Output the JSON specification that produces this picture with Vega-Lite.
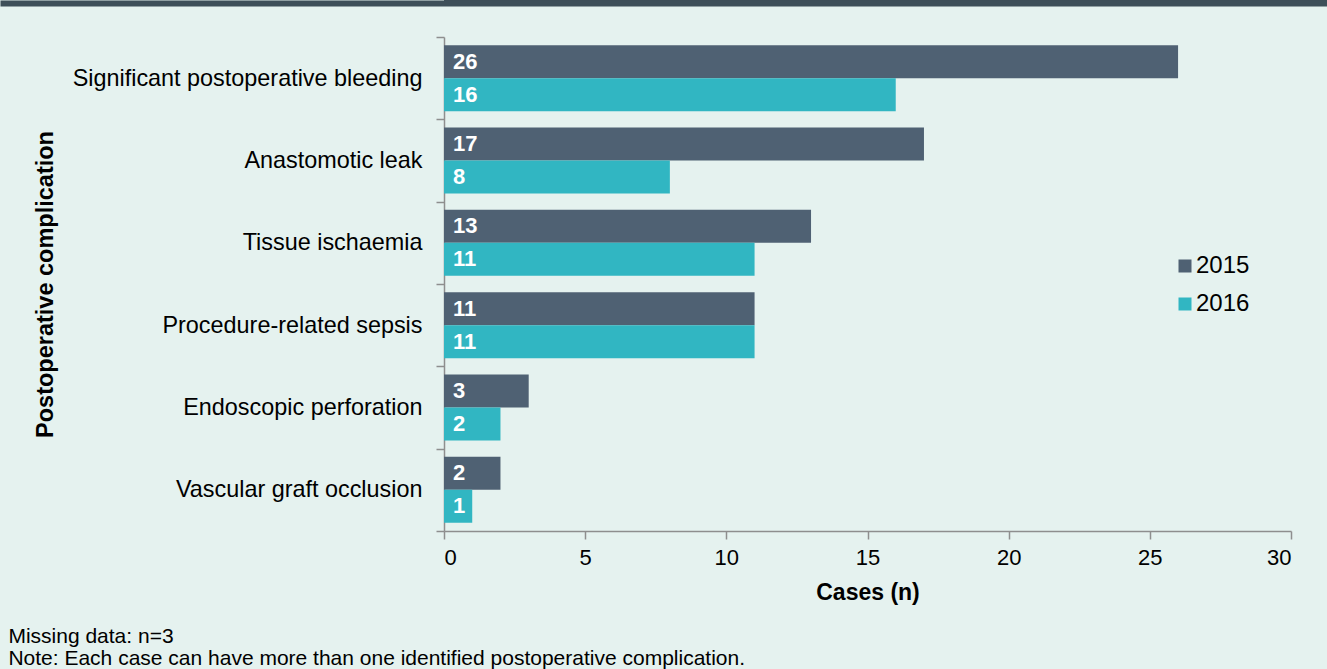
{
  "$schema": "https://vega.github.io/schema/vega-lite/v6.json",
  "background": "#e5f2ef",
  "padding": 0,
  "columns": 1,
  "align": "none",
  "spacing": 22,
  "resolve": {"legend": {"color": "independent"}, "scale": {"x": "independent"}, "axis": {"x": "independent"}},
  "config": {
    "font": "Liberation Sans",
    "view": {"stroke": null},
    "axis": {"domainColor": "#8e8e8e", "tickColor": "#8e8e8e", "domainWidth": 1.5, "tickWidth": 1.5, "labelColor": "#000000", "titleColor": "#000000", "grid": false}
  },
  "concat": [
    {
      "width": 883,
      "height": 3,
      "data": {"values": []},
      "mark": "point",
      "encoding": {
        "x": {
          "field": "h",
          "type": "quantitative",
          "scale": {"domain": [0, 1], "range": [-444, 883]},
          "axis": {"orient": "bottom", "domainWidth": 6, "domainColor": "#3e4f59", "domainCap": "butt", "ticks": false, "labels": false, "title": null, "grid": false}
        }
      },
      "view": {"fill": "#3e4f59", "stroke": null}
    },
    {
      "width": 847,
      "height": 494,
      "title": {
        "text": ["\u200b\u2009\u2009Missing data: n=3", "\u200b\u2009\u2009Note: Each case can have more than one identified postoperative complication."],
        "orient": "bottom",
        "anchor": "start",
        "frame": "group",
        "dx": -444,
        "offset": 22,
        "fontSize": 21,
        "fontWeight": "normal",
        "lineHeight": 21.5,
        "color": "#000000"
      },
      "data": {
        "values": [
          {"complication": "Significant postoperative bleeding", "year": "2015", "cases": 26},
          {"complication": "Significant postoperative bleeding", "year": "2016", "cases": 16},
          {"complication": "Anastomotic leak", "year": "2015", "cases": 17},
          {"complication": "Anastomotic leak", "year": "2016", "cases": 8},
          {"complication": "Tissue ischaemia", "year": "2015", "cases": 13},
          {"complication": "Tissue ischaemia", "year": "2016", "cases": 11},
          {"complication": "Procedure-related sepsis", "year": "2015", "cases": 11},
          {"complication": "Procedure-related sepsis", "year": "2016", "cases": 11},
          {"complication": "Endoscopic perforation", "year": "2015", "cases": 3},
          {"complication": "Endoscopic perforation", "year": "2016", "cases": 2},
          {"complication": "Vascular graft occlusion", "year": "2015", "cases": 2},
          {"complication": "Vascular graft occlusion", "year": "2016", "cases": 1}
        ]
      },
      "encoding": {
        "y": {
          "field": "complication",
          "type": "nominal",
          "sort": null,
          "scale": {"paddingInner": 0, "paddingOuter": 0},
          "axis": {
            "title": "Postoperative complication",
            "titleFontSize": 23.5,
            "titleFontWeight": "bold",
            "titlePadding": 15,
            "labelFontSize": 23.4,
            "labelPadding": 14,
            "labelLimit": 600,
            "maxExtent": 500,
            "tickSize": 8,
            "tickBand": "extent"
          }
        },
        "yOffset": {
          "field": "year",
          "type": "nominal",
          "scale": {"paddingInner": 0, "paddingOuter": 0.2475}
        },
        "x": {
          "field": "cases",
          "type": "quantitative",
          "scale": {"domain": [0, 30], "nice": false},
          "title": "Cases (n)",
          "axis": {
            "values": [0, 5, 10, 15, 20, 25, 30],
            "labelFontSize": 22,
            "labelPadding": 8,
            "tickSize": 8,
            "titleFontSize": 23,
            "titleFontWeight": "bold",
            "titlePadding": 13
          }
        }
      },
      "layer": [
        {
          "mark": {"type": "bar"},
          "encoding": {
            "color": {
              "field": "year",
              "type": "nominal",
              "scale": {"domain": ["2015", "2016"], "range": ["#4f6173", "#31b6c2"]},
              "legend": {
                "title": null,
                "orient": "none",
                "legendX": 729,
                "legendY": 217,
                "symbolType": "square",
                "symbolSize": 169,
                "symbolStrokeWidth": 0,
                "labelFontSize": 24,
                "labelColor": "#000000",
                "rowPadding": 14,
                "labelOffset": -1,
                "padding": 0
              }
            }
          }
        },
        {
          "mark": {"type": "text", "align": "left", "baseline": "middle", "dx": 9, "color": "#ffffff", "fontWeight": "bold", "fontSize": 22},
          "encoding": {
            "x": {"datum": 0, "type": "quantitative", "title": "Cases (n)"},
            "text": {"field": "cases", "type": "quantitative"}
          }
        }
      ]
    }
  ]
}
